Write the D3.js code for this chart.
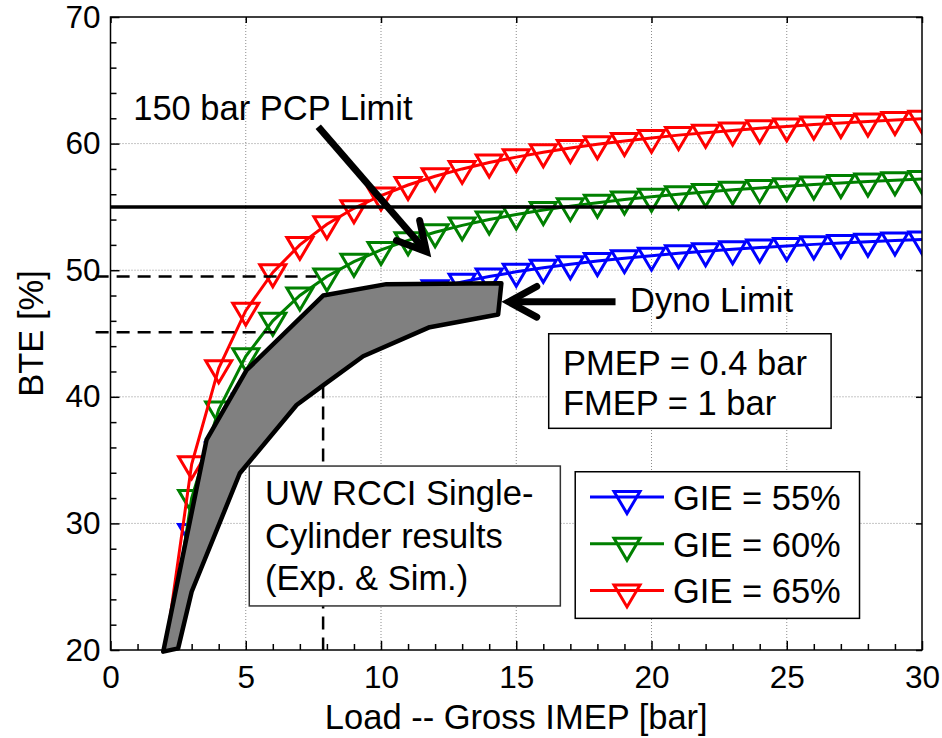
<!DOCTYPE html>
<html>
<head>
<meta charset="utf-8">
<script src="https://cdn.jsdelivr.net/npm/d3@7"></script>
<style>
  body { margin: 0; background: #fff; }
  text { font-family: "Liberation Sans", Arial, sans-serif; fill: #000; }
</style>
</head>
<body>
<svg id="chart" width="942" height="738"></svg>
<script>
// load points (gross IMEP, bar)
var loads = [2, 3, 4, 5, 6, 7, 8, 9, 10, 11, 12, 13, 14, 15, 16, 17, 18, 19, 20,
    21, 22, 23, 24, 25, 26, 27, 28, 29, 30];

// BTE [%] for each GIE curve
var gie55 = [16.5, 29.33, 35.75, 39.6, 42.17, 44.0, 45.38, 46.44, 47.3, 48.0, 48.58,
    49.08, 49.5, 49.87, 50.19, 50.47, 50.72, 50.95, 51.15, 51.33, 51.5, 51.65, 51.79,
    51.92, 52.04, 52.15, 52.25, 52.35, 52.43];
var gie60 = [18.0, 32.0, 39.0, 43.2, 46.0, 48.0, 49.5, 50.67, 51.6, 52.36, 53.0,
    53.54, 54.0, 54.4, 54.75, 55.06, 55.33, 55.58, 55.8, 56.0, 56.18, 56.35, 56.5,
    56.64, 56.77, 56.89, 57.0, 57.1, 57.2];
var gie65 = [19.5, 34.67, 42.25, 46.8, 49.83, 52.0, 53.63, 54.89, 55.9, 56.73, 57.42,
    58.0, 58.5, 58.93, 59.31, 59.65, 59.94, 60.21, 60.45, 60.67, 60.86, 61.04, 61.21,
    61.36, 61.5, 61.63, 61.75, 61.86, 61.97];

var seriesNames = ["GIE = 55%", "GIE = 60%", "GIE = 65%"];
var seriesColors = ["#0000ff", "#008000", "#ff0000"];

// UW RCCI single-cylinder region (outline of the grey band)
var rcciBand = [[1.95, 19.87], [3.55, 36.6], [5.03, 42.1], [7.86, 48.0], [10.2, 48.9],
    [14.45, 48.97], [14.33, 46.5], [11.8, 45.5], [9.34, 43.2], [7.86, 40.9],
    [6.88, 39.35], [4.78, 33.96], [3.0, 24.6], [2.5, 20.13]];

var pcpLimit = 55;   // horizontal limit line

// dashed guide lines: [x1, y1, x2, y2]
var guides = [[-0.55, 49.5, 7.62, 49.5], [-0.55, 45.1, 6.08, 45.1], [7.86, 40.9, 7.86, 20]];

var xTicks = [0, 5, 10, 15, 20, 25, 30];
var yTicks = [20, 30, 40, 50, 60, 70];
var xMinor = [1, 2, 3, 4, 6, 7, 8, 9, 11, 12, 13, 14, 16, 17, 18, 19, 21, 22, 23, 24,
    26, 27, 28, 29];
var yMinor = [22, 24, 26, 28, 32, 34, 36, 38, 42, 44, 46, 48, 52, 54, 56, 58, 62, 64, 66, 68];

var svg = d3.select("#chart");
var fontFam = '"Liberation Sans", Arial, sans-serif';

var x = d3.scaleLinear().domain([0, 30]).range([110.5, 922]);
var y = d3.scaleLinear().domain([20, 70]).range([650, 17]);

svg.append("defs").append("clipPath").attr("id", "plotclip")
    .append("rect")
    .attr("x", x(0)).attr("y", y(70))
    .attr("width", x(30) - x(0)).attr("height", y(20) - y(70));

// dotted grid
var grid = svg.append("g");
grid.selectAll(".vg").data(xTicks.slice(1, -1)).enter().append("line")
    .attr("x1", function(d) { return x(d); }).attr("x2", function(d) { return x(d); })
    .attr("y1", y(20)).attr("y2", y(70))
    .attr("stroke", "#8c8c8c").attr("stroke-width", 1).attr("stroke-dasharray", "1,2");
grid.selectAll(".hg").data(yTicks.slice(1, -1)).enter().append("line")
    .attr("y1", function(d) { return y(d); }).attr("y2", function(d) { return y(d); })
    .attr("x1", x(0)).attr("x2", x(30))
    .attr("stroke", "#8c8c8c").attr("stroke-width", 1).attr("stroke-dasharray", "1,2");

// inverted triangle marker, centred on its centroid
var tri = "M-13,-7.5L13,-7.5L0,14.5Z";

var allSeries = [gie55, gie60, gie65];
var line = d3.line()
    .x(function(d) { return x(d[0]); })
    .y(function(d) { return y(d[1]); });

var plot = svg.append("g").attr("clip-path", "url(#plotclip)");
allSeries.forEach(function(vals, i) {
    var pts = loads.map(function(l, j) { return [l, vals[j]]; });
    plot.append("path")
        .attr("d", line(pts))
        .attr("fill", "none")
        .attr("stroke", seriesColors[i])
        .attr("stroke-width", 3);
    // markers outside the axes are not drawn
    plot.selectAll(".m" + i).data(pts.filter(function(d) { return d[1] >= 20; }))
        .enter().append("path")
        .attr("d", tri)
        .attr("transform", function(d) { return "translate(" + x(d[0]) + "," + y(d[1]) + ")"; })
        .attr("fill", "none")
        .attr("stroke", seriesColors[i])
        .attr("stroke-width", 3);
});

// 55 % limit line
svg.append("line")
    .attr("x1", x(0)).attr("x2", x(30))
    .attr("y1", y(pcpLimit)).attr("y2", y(pcpLimit))
    .attr("stroke", "#000").attr("stroke-width", 3.5);

// grey RCCI band
svg.append("path")
    .attr("d", d3.line()
        .x(function(d) { return x(d[0]); })
        .y(function(d) { return y(d[1]); })(rcciBand) + "Z")
    .attr("fill", "#808080")
    .attr("stroke", "#000")
    .attr("stroke-width", 4.5)
    .attr("stroke-linejoin", "round");

// dashed guides
svg.selectAll(".guide").data(guides).enter().append("line")
    .attr("x1", function(d) { return x(d[0]); })
    .attr("y1", function(d) { return y(d[1]); })
    .attr("x2", function(d) { return x(d[2]); })
    .attr("y2", function(d) { return y(d[3]); })
    .attr("stroke", "#000").attr("stroke-width", 2.5)
    .attr("stroke-dasharray", "13,8");

// axes frame and ticks
function styleAxis(g) {
    g.select(".domain").remove();
    g.selectAll(".tick line").attr("stroke", "#000").attr("stroke-width", 1.5);
    g.selectAll("text").attr("font-family", fontFam).attr("font-size", 31.5).attr("fill", "#000");
}
var noLab = function() { return ""; };

svg.append("g").attr("transform", "translate(0," + y(20) + ")")
    .call(d3.axisBottom(x).tickValues(xTicks).tickSize(-9).tickPadding(16).tickFormat(d3.format("d")))
    .call(styleAxis);
svg.append("g").attr("transform", "translate(0," + y(20) + ")")
    .call(d3.axisBottom(x).tickValues(xMinor).tickSize(-6).tickFormat(noLab))
    .call(styleAxis);
svg.append("g").attr("transform", "translate(0," + y(70) + ")")
    .call(d3.axisTop(x).tickValues(xTicks).tickSize(-6).tickFormat(noLab))
    .call(styleAxis);
svg.append("g").attr("transform", "translate(" + x(0) + ",0)")
    .call(d3.axisLeft(y).tickValues(yTicks).tickSize(-9).tickPadding(10).tickFormat(d3.format("d")))
    .call(styleAxis);
svg.append("g").attr("transform", "translate(" + x(0) + ",0)")
    .call(d3.axisLeft(y).tickValues(yMinor).tickSize(-6).tickFormat(noLab))
    .call(styleAxis);
svg.append("g").attr("transform", "translate(" + x(30) + ",0)")
    .call(d3.axisRight(y).tickValues(yTicks).tickSize(-6).tickFormat(noLab))
    .call(styleAxis);

svg.append("rect")
    .attr("x", x(0)).attr("y", y(70))
    .attr("width", x(30) - x(0)).attr("height", y(20) - y(70))
    .attr("fill", "none").attr("stroke", "#000").attr("stroke-width", 1.5);

// axis titles
svg.append("text")
    .attr("x", (x(0) + x(30)) / 2).attr("y", 729)
    .attr("text-anchor", "middle").attr("font-size", 34.5)
    .text("Load -- Gross IMEP [bar]");
svg.append("text")
    .attr("transform", "translate(43," + ((y(20) + y(70)) / 2) + ") rotate(-90)")
    .attr("text-anchor", "middle").attr("font-size", 34.5)
    .text("BTE [%]");

// arrows: [x0, y0, x1 (tip), y1 (tip)]
var arrows = [[7.68, 61.33, 11.68, 51.46], [18.67, 47.5, 14.72, 47.5]];
arrows.forEach(function(a) {
    var x0 = x(a[0]), y0 = y(a[1]), x1 = x(a[2]), y1 = y(a[3]);
    var ang = Math.atan2(y1 - y0, x1 - x0);
    var len = 32, spread = 0.5;
    svg.append("line")
        .attr("x1", x0).attr("y1", y0).attr("x2", x1 - 3 * Math.cos(ang)).attr("y2", y1 - 3 * Math.sin(ang))
        .attr("stroke", "#000").attr("stroke-width", 7);
    var p1 = [x1 - len * Math.cos(ang - spread), y1 - len * Math.sin(ang - spread)];
    var p2 = [x1 - len * Math.cos(ang + spread), y1 - len * Math.sin(ang + spread)];
    svg.append("path")
        .attr("d", "M" + p1 + "L" + [x1, y1] + "L" + p2)
        .attr("fill", "none").attr("stroke", "#000").attr("stroke-width", 7)
        .attr("stroke-linejoin", "miter").attr("stroke-linecap", "round");
});

// annotation labels
svg.append("text").attr("x", x(0.84)).attr("y", 120).attr("font-size", 34.5)
    .text("150 bar PCP Limit");
svg.append("text").attr("x", 630).attr("y", 312).attr("font-size", 34.5)
    .text("Dyno Limit");

// text boxes
function textBox(x0, y0, x1, y1, lines, tx, baseY, step, col) {
    svg.append("rect")
        .attr("x", x(x0)).attr("y", y(y0))
        .attr("width", x(x1) - x(x0)).attr("height", y(y1) - y(y0))
        .attr("fill", "#fff").attr("stroke", col).attr("stroke-width", 1.5);
    lines.forEach(function(t, i) {
        svg.append("text").attr("x", tx).attr("y", baseY + i * step)
            .attr("font-size", 34.5).text(t);
    });
}
textBox(5.13, 34.53, 16.63, 23.48,
    ["UW RCCI Single-", "Cylinder results", "(Exp. & Sim.)"], 265, 505, 42.5, "#333");
textBox(16.2, 44.98, 26.64, 37.51,
    ["PMEP = 0.4 bar", "FMEP = 1 bar"], 563, 375, 40, "#000");

// legend
var leg = svg.append("g");
leg.append("rect")
    .attr("x", x(17.18)).attr("y", y(34.08))
    .attr("width", x(27.69) - x(17.18)).attr("height", y(22.5) - y(34.08))
    .attr("fill", "#fff").attr("stroke", "#000").attr("stroke-width", 1.5);
seriesNames.forEach(function(name, i) {
    var ry = 497 + i * 46.7;
    leg.append("line").attr("x1", 590).attr("x2", 664).attr("y1", ry).attr("y2", ry)
        .attr("stroke", seriesColors[i]).attr("stroke-width", 3);
    leg.append("path").attr("d", tri)
        .attr("transform", "translate(627," + (ry + 2) + ")")
        .attr("fill", "none").attr("stroke", seriesColors[i]).attr("stroke-width", 3);
    leg.append("text").attr("x", 673).attr("y", ry + 13)
        .attr("font-size", 34.5).text(name);
});
</script>
</body>
</html>
